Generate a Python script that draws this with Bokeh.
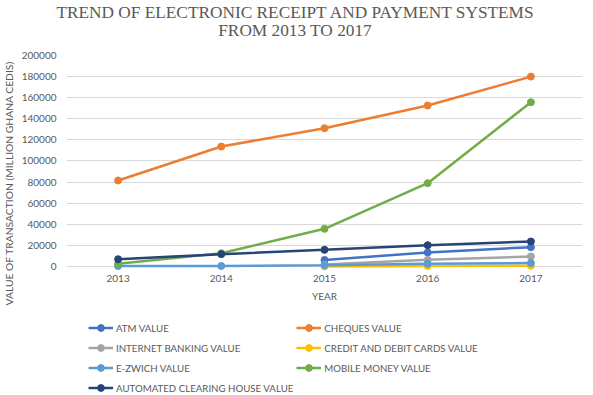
from bokeh.plotting import figure
from bokeh.layouts import column
from bokeh.models import (FixedTicker, Range1d, Legend, LegendItem, Title, Div,
                          NumeralTickFormatter)
from bokeh.embed import file_html
from bokeh.resources import INLINE

years = [2013, 2014, 2015, 2016, 2017]
nan = float("nan")

atm_value = [nan, nan, 6200, 13300, 18300]
cheques_value = [81500, 113700, 131100, 152600, 180000]
internet_banking_value = [nan, nan, 1800, 6300, 9500]
cards_value = [nan, nan, 100, 400, 700]
ezwich_value = [400, 500, 1200, 2600, 3300]
mobile_money_value = [2500, 12600, 35700, 79000, 155700]
ach_value = [6900, 11700, 15800, 20200, 23700]

series_names = ["ATM VALUE", "CHEQUES VALUE", "INTERNET BANKING VALUE",
                "CREDIT AND DEBIT CARDS VALUE", "E-ZWICH VALUE",
                "MOBILE MONEY VALUE", "AUTOMATED CLEARING HOUSE VALUE"]
series_values = [atm_value, cheques_value, internet_banking_value, cards_value,
                 ezwich_value, mobile_money_value, ach_value]
colors = ["#4472C4", "#ED7D31", "#A5A5A5", "#FFC000", "#5B9BD5", "#70AD47", "#264478"]

y_ticks = [0, 20000, 40000, 60000, 80000, 100000, 120000, 140000, 160000, 180000, 200000]

title_line1 = "TREND OF ELECTRONIC RECEIPT AND PAYMENT SYSTEMS"
title_line2 = "FROM 2013 TO 2017"
y_title = "VALUE OF TRANSACTION (MILLION GHANA CEDIS)"
x_title = "YEAR"

FONT = "Lato"
GREY = "#595959"

title_div = Div(
    text=('<div style="width:590px;font-family:\'Liberation Serif\';font-size:17.3px;'
          'line-height:18.3px;color:#595959;text-align:center;padding-top:4px;'
          'white-space:nowrap;">'
          + title_line1 + '<br>' + title_line2 + '</div>'),
    width=593, height=45, margin=0)

p = figure(width=593, height=265, output_backend="svg", toolbar_location=None,
           x_range=Range1d(2012.5, 2017.5), y_range=Range1d(-4740, 200000),
           min_border_left=63, min_border_right=11, min_border_top=10,
           min_border_bottom=39)
p.outline_line_color = None
p.background_fill_color = "white"

p.xgrid.visible = False
p.ygrid.grid_line_color = "#D9D9D9"
p.ygrid.grid_line_width = 1

p.xaxis.ticker = FixedTicker(ticks=years)
p.yaxis.ticker = FixedTicker(ticks=y_ticks)
p.yaxis.formatter = NumeralTickFormatter(format="0")
for ax in (p.xaxis, p.yaxis):
    ax.axis_line_color = None
    ax.major_tick_line_color = None
    ax.minor_tick_line_color = None
    ax.major_tick_out = 0
    ax.major_tick_in = 0
    ax.major_label_text_font = FONT
    ax.major_label_text_font_size = "10px"
    ax.major_label_text_color = GREY
p.yaxis.major_label_standoff = 10
p.xaxis.major_label_standoff = 3
p.xaxis.axis_label = x_title
p.xaxis.axis_label_text_font = FONT
p.xaxis.axis_label_text_font_size = "10px"
p.xaxis.axis_label_text_font_style = "normal"
p.xaxis.axis_label_text_color = GREY
p.xaxis.axis_label_standoff = 5

for vals, col in zip(series_values, colors):
    p.line(years, vals, line_color=col, line_width=2.5)
    p.scatter(years, vals, size=7, fill_color=col, line_color=col)

p.add_layout(Title(text=y_title, align="left", offset=-34, vertical_align="top",
                   standoff=4, text_font=FONT, text_font_size="10.3px",
                   text_font_style="normal", text_color=GREY), "left")

# legend lives in its own strip below the chart; its renderers reuse the series
# data but lie outside this strip's ranges, so only the legend glyphs show
lg = figure(width=593, height=85, output_backend="svg", toolbar_location=None,
            x_range=Range1d(0, 1), y_range=Range1d(0, 1),
            x_axis_location=None, y_axis_location=None, min_border=0)
lg.outline_line_color = None
lg.xgrid.visible = False
lg.ygrid.visible = False
items = []
for name, vals, col in zip(series_names, series_values, colors):
    r1 = lg.line(years, vals, line_color=col, line_width=2.5)
    r2 = lg.scatter(years, vals, size=7, fill_color=col, line_color=col)
    items.append(LegendItem(label=name, renderers=[r1, r2]))
legend = Legend(items=items, orientation="horizontal", ncols=2,
                location=(22, -1), padding=0, margin=0, spacing=3,
                glyph_width=25, glyph_height=17, label_height=17,
                label_standoff=3, label_text_font=FONT,
                label_text_font_size="9.7px", label_text_color=GREY,
                label_text_baseline="middle",
                background_fill_alpha=0, border_line_color=None)
lg.add_layout(legend, "center")

layout = column(title_div, p, lg, spacing=0)
open("out.html", "w").write(file_html(layout, INLINE))
